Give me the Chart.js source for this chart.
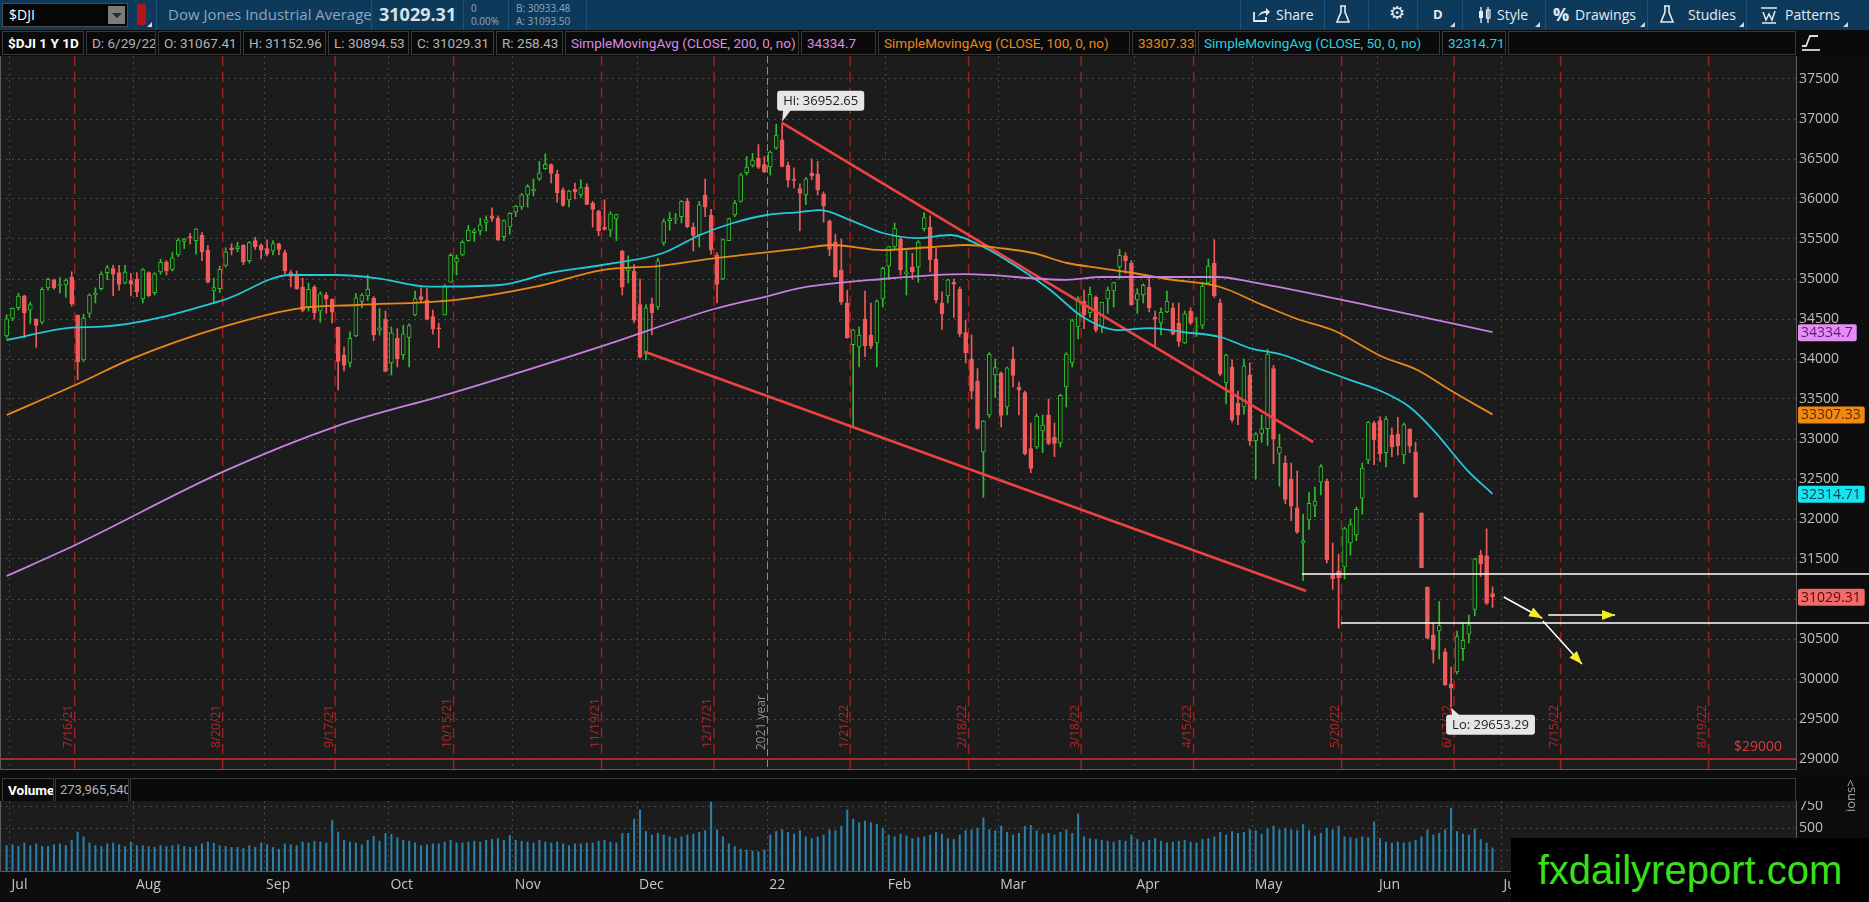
<!DOCTYPE html>
<html>
<head>
<meta charset="utf-8">
<title>$DJI 1 Y 1D</title>
<script src="https://cdn.jsdelivr.net/npm/chart.js@4.4.1/dist/chart.umd.min.js"></script>
<style>
  html, body { margin:0; padding:0; width:1869px; height:902px; overflow:hidden; background:#0d0d0d; font-family:'Open Sans', sans-serif; }
  .abs { position:absolute; white-space:nowrap; }
  #tb { left:0; top:0; width:1869px; height:30px; background:#0d3a5b; color:#e4ebf1; font-size:14px; }
  #ib { left:0; top:30px; width:1869px; height:26px; background:#0a0a0a; }
  .bx { position:absolute; top:1px; height:24px; box-sizing:border-box; border:1px solid #3a3a3a; line-height:22px; padding-left:5px; font-family:Roboto, sans-serif; font-size:13.5px; color:#b2b2b2; white-space:nowrap; overflow:hidden; }
  .sep { position:absolute; top:0; width:1px; height:30px; background:#1d5378; }
  .tri { position:absolute; width:0; height:0; border-left:5px solid transparent; border-bottom:5px solid #cfd8e0; }
  #priceWrap { position:absolute; left:0; top:56px; width:1869px; height:714px; }
  #volHead { left:0; top:777px; width:1869px; height:24px; background:#0a0a0a; }
  #volWrap { position:absolute; left:0; top:801px; width:1869px; height:101px; }
  canvas { background:#0d0d0d; }
  #wm { left:1511px; top:838px; width:358px; height:64px; background:#000; color:#38e01c; font-family:'Liberation Sans', Arial, sans-serif; font-size:40px; line-height:64px; text-align:center; z-index:5; }
</style>
</head>
<body>

<div id="tb" class="abs">
  <div class="abs" style="left:2px;top:3px;width:126px;height:24px;background:#060606;border:1px solid #4a4a4a;box-sizing:border-box;"></div>
  <div class="abs" style="left:9px;top:5px;color:#fff;font-size:14px;">$DJI</div>
  <div class="abs" style="left:108px;top:6px;width:17px;height:18px;background:#7b7b7b;"></div>
  <div class="abs" style="left:112px;top:13px;width:0;height:0;border-left:5px solid transparent;border-right:5px solid transparent;border-top:5px solid #2a2a2a;"></div>
  <div class="abs" style="left:137px;top:4px;width:9px;height:21px;background:#b3171b;border-radius:2px;"></div>
  <div class="tri" style="left:147px;top:22px;"></div>
  <div class="sep" style="left:156px;"></div>
  <div class="abs" style="left:168px;top:4px;color:#8ea6bc;font-size:15px;">Dow Jones Industrial Average</div>
  <div class="sep" style="left:371px;"></div>
  <div class="abs" style="left:379px;top:2px;color:#d9e1e8;font-size:18px;font-weight:bold;">31029.31</div>
  <div class="sep" style="left:463px;"></div>
  <div class="abs" style="left:471px;top:1px;color:#8ea6bc;font-size:10px;">0</div>
  <div class="abs" style="left:471px;top:14px;color:#8ea6bc;font-size:10px;">0.00%</div>
  <div class="sep" style="left:508px;"></div>
  <div class="abs" style="left:516px;top:1px;color:#8ea6bc;font-size:10px;">B: 30933.48</div>
  <div class="abs" style="left:516px;top:14px;color:#8ea6bc;font-size:10px;">A: 31093.50</div>
  <div class="sep" style="left:586px;"></div>

  <div class="sep" style="left:1240px;"></div>
  <svg class="abs" style="left:1252px;top:7px;" width="18" height="16" viewBox="0 0 18 16"><path d="M2 5v9h12v-4" fill="none" stroke="#e4ebf1" stroke-width="1.8"/><path d="M6 10c1-4 4-6 8-6V1l4 4-4 4V6c-3 0-6 1-8 4z" fill="#e4ebf1"/></svg>
  <div class="abs" style="left:1276px;top:5px;">Share</div>
  <div class="sep" style="left:1324px;"></div>
  <svg class="abs" style="left:1336px;top:5px;" width="14" height="19" viewBox="0 0 14 19"><path d="M4 1h6M5 1v6L1 17h12L9 7V1" fill="none" stroke="#e4ebf1" stroke-width="1.6"/></svg>
  <div class="sep" style="left:1368px;"></div>
  <div class="abs" style="left:1389px;top:2px;font-size:18px;font-family:'DejaVu Sans';">⚙</div>
  <div class="sep" style="left:1417px;"></div>
  <div class="abs" style="left:1433px;top:5px;font-weight:bold;font-size:13px;">D</div>
  <div class="tri" style="left:1450px;top:22px;"></div>
  <div class="sep" style="left:1462px;"></div>
  <svg class="abs" style="left:1478px;top:6px;" width="14" height="18" viewBox="0 0 14 18"><path d="M3 1v16M10 1v16" stroke="#e4ebf1" stroke-width="1.4"/><rect x="1" y="5" width="4" height="7" fill="#e4ebf1"/><rect x="8.5" y="4" width="3.5" height="8" fill="none" stroke="#e4ebf1" stroke-width="1.2"/></svg>
  <div class="abs" style="left:1497px;top:5px;">Style</div>
  <div class="tri" style="left:1535px;top:22px;"></div>
  <div class="sep" style="left:1545px;"></div>
  <div class="abs" style="left:1553px;top:2px;font-size:18px;font-weight:bold;">%</div>
  <div class="abs" style="left:1575px;top:5px;">Drawings</div>
  <div class="tri" style="left:1640px;top:22px;"></div>
  <div class="sep" style="left:1647px;"></div>
  <svg class="abs" style="left:1660px;top:5px;" width="14" height="19" viewBox="0 0 14 19"><path d="M4 1h6M5 1v6L1 17h12L9 7V1" fill="none" stroke="#e4ebf1" stroke-width="1.6"/></svg>
  <div class="abs" style="left:1688px;top:5px;">Studies</div>
  <div class="tri" style="left:1739px;top:22px;"></div>
  <div class="sep" style="left:1746px;"></div>
  <svg class="abs" style="left:1760px;top:6px;" width="18" height="18" viewBox="0 0 18 18"><path d="M1 2h16M3 6l3 8 3-6 3 6 3-9M2 17h14" fill="none" stroke="#e4ebf1" stroke-width="1.5"/></svg>
  <div class="abs" style="left:1785px;top:5px;">Patterns</div>
  <div class="tri" style="left:1843px;top:22px;"></div>
</div>

<div id="ib" class="abs">
  <div class="bx" style="left:2px;width:82px;color:#fff;font-weight:bold;">$DJI 1 Y 1D</div>
  <div class="bx" style="left:86px;width:70px;">D: 6/29/22</div>
  <div class="bx" style="left:158px;width:83px;">O: 31067.41</div>
  <div class="bx" style="left:243px;width:83px;">H: 31152.96</div>
  <div class="bx" style="left:328px;width:81px;">L: 30894.53</div>
  <div class="bx" style="left:411px;width:83px;">C: 31029.31</div>
  <div class="bx" style="left:496px;width:67px;">R: 258.43</div>
  <div class="bx" style="left:565px;width:234px;color:#d98ae8;">SimpleMovingAvg (CLOSE, 200, 0, no)</div>
  <div class="bx" style="left:801px;width:75px;color:#d98ae8;">34334.7</div>
  <div class="bx" style="left:878px;width:252px;color:#e8891c;">SimpleMovingAvg (CLOSE, 100, 0, no)</div>
  <div class="bx" style="left:1132px;width:64px;color:#e8891c;">33307.33</div>
  <div class="bx" style="left:1198px;width:242px;color:#27d3e0;">SimpleMovingAvg (CLOSE, 50, 0, no)</div>
  <div class="bx" style="left:1442px;width:64px;color:#27d3e0;">32314.71</div>
  <div class="bx" style="left:1508px;width:288px;"></div>
  <svg class="abs" style="left:1800px;top:3px;" width="22" height="20" viewBox="0 0 22 20"><path d="M2 13h4l4-10h8" fill="none" stroke="#dcdcdc" stroke-width="1.8"/><path d="M2 17h18" stroke="#dcdcdc" stroke-width="1.8"/></svg>
</div>

<div id="priceWrap"><canvas id="price"></canvas></div>

<div id="volHead" class="abs">
  <div class="bx" style="left:2px;width:52px;color:#fff;font-weight:bold;">Volume</div>
  <div class="bx" style="left:55px;width:74px;font-size:13px;padding-left:4px;">273,965,540</div>
  <div class="bx" style="left:130px;width:1666px;"></div>
</div>

<div id="volWrap"><canvas id="vol"></canvas></div>

<div class="abs" style="left:1841px;top:812px;color:#a8a8a8;font-size:13px;transform:rotate(-90deg);transform-origin:left top;z-index:4;">ions&gt;</div>
<div id="wm" class="abs">fxdailyreport.com</div>

<script>
// daily candles, 6/30/21 .. 6/29/22 (index 0 .. 251)
const opens = [34290,34507,34642,34790,34609,34500,34460,34890,34990,34920,
  34925,35021,34550,33990,34570,34800,34880,35080,35130,35080,
  34950,34980,35000,34750,35080,34830,35090,35210,35120,35300,
  35470,35530,35480,35550,35360,34850,34880,35170,35390,35380,
  35420,35230,35480,35420,35380,35350,35440,35330,35080,35050,
  34900,34650,34900,34600,34800,34750,34400,34050,33950,34290,
  34720,34790,34760,34360,34500,33950,34260,34050,34270,34550,
  34780,34740,34530,34390,34550,34960,35210,35300,35480,35580,
  35600,35700,35790,35760,35530,35650,35840,35900,36050,36100,
  36250,36380,36430,36310,36110,35990,36120,36050,36150,35950,
  35850,35650,35610,35750,35350,35100,35100,34680,34060,34690,
  34650,35450,35730,35750,35780,35970,35650,35550,36050,35800,
  35300,35000,35480,35800,35970,36330,36420,36510,36430,36400,
  36640,36740,36420,36250,36130,36050,36320,36310,36060,35720,
  35460,35110,34700,34180,34150,34500,34300,34200,34750,35160,
  35400,35500,35060,35150,35150,35630,35650,35250,34700,34790,
  34960,34870,34330,34000,33720,32840,33300,33800,33820,33400,
  34000,33650,33580,32880,32900,33100,33300,33020,32950,33650,
  33950,34400,34720,34580,34770,34400,34750,34850,35150,35290,
  35200,34740,34800,34900,34520,34450,34590,34640,34450,34200,
  34600,34400,34420,34950,35200,34700,33700,33900,33450,33400,
  33800,32980,33070,33130,33880,32820,32700,32500,32140,31700,
  31990,32170,32460,32470,31300,31350,31400,31700,31800,32260,
  32740,33200,33230,32830,33050,33060,32800,33120,32840,32070,
  31150,30550,30600,30340,29940,30090,30380,30560,30870,31550,
  31540,31067];
const highs = [34550,34640,34821,34796,34711,34502,34893,35011,35000,35017,
  35000,35091,34550,34560,34815,34890,35090,35170,35171,35170,
  35170,35070,35080,35130,35090,35080,35250,35230,35330,35510,
  35510,35570,35630,35580,35420,35010,35160,35390,35440,35460,
  35430,35470,35520,35440,35490,35480,35450,35360,35110,35100,
  35010,34950,34920,34840,34830,34750,34400,34150,34340,34820,
  34820,35050,34780,34630,34600,34400,34380,34420,34440,34850,
  34890,34880,34610,34450,34930,35320,35300,35480,35670,35630,
  35760,35790,35890,35790,35740,35830,35920,36070,36180,36250,
  36470,36565,36440,36360,36140,36110,36200,36240,36190,35970,
  35860,35990,35840,35810,35360,35290,35180,35000,34680,34760,
  35260,35750,35830,35820,35980,36010,35700,35970,36250,35870,
  35330,35500,35760,35980,36320,36530,36570,36680,36530,36600,
  36935,36952.65,36460,36390,36190,36270,36500,36470,36090,35740,
  35560,35500,34860,34370,34400,34850,34700,34740,35150,35410,
  35700,35520,35350,35320,35480,35830,35790,35380,34840,35000,
  35000,34900,34480,34300,33880,33230,34080,34000,33840,33900,
  34150,33710,33600,33200,33310,33300,33500,33200,33560,34080,
  34500,34780,34860,34900,34790,34710,34900,34960,35370,35330,
  35230,34880,34940,35020,34600,34640,34850,34700,34700,34600,
  34640,34520,34960,35250,35492,34750,34060,33990,33600,34000,
  33950,33080,33300,34120,33920,33060,32790,32700,32600,32060,
  32330,32400,32680,32500,31700,31560,31900,32000,32150,32700,
  33220,33220,33280,33280,33140,33270,33200,33130,32960,32080,
  31150,30700,30970,30380,30150,30600,30700,30800,31510,31610,
  31877,31152.96];
const lows = [34262,34480,34613,34266,34439,34145,34440,34860,34870,34825,
  34770,34660,33741,33970,34520,34700,34860,34990,34792,34860,
  34940,34790,34780,34700,34780,34800,35060,35050,35100,35280,
  35380,35440,35310,35230,34950,34690,34830,35150,35300,35340,
  35180,35200,35370,35250,35290,35300,35300,35060,34900,34870,
  34590,34600,34500,34460,34570,34450,33613,33850,33900,34280,
  34640,34730,34230,34300,33840,33800,33900,34000,33900,34540,
  34700,34490,34310,34140,34550,34960,35050,35290,35470,35470,
  35550,35600,35720,35480,35480,35560,35780,35870,35900,36040,
  36230,36370,36200,35960,35910,35900,36000,36020,35930,35650,
  35540,35610,35530,35480,34800,34950,34450,34010,33990,34300,
  34620,35420,35610,35690,35700,35640,35350,35400,35780,35310,
  34700,34990,35480,35780,35960,36300,36400,36380,36330,36300,
  36620,36400,36150,36140,35600,35930,36240,36050,35710,35290,
  35020,34680,34260,33150,33900,34030,34130,33900,34650,35000,
  35380,35050,34800,35000,34960,35600,35090,34700,34370,34700,
  34520,34280,33950,33500,33120,32272,33270,33520,33150,33300,
  33650,33300,32800,32578,32880,32830,32930,32780,32900,33400,
  33900,34250,34380,34520,34340,34330,34570,34650,35000,35070,
  34670,34570,34700,34590,34150,34300,34580,34300,34160,34190,
  34430,34280,34380,34940,34770,33790,33440,33210,33180,33310,
  32920,32500,32960,32920,32690,32410,32190,31980,31820,31228,
  31870,32030,32300,31450,31120,30635,31250,31550,31730,32060,
  32690,32680,32720,32650,32780,32800,32690,32830,32270,31390,
  30500,30200,30250,29920,29653.29,30060,30230,30450,30790,31280,
  30930,30894.53];
const closes = [34502,34633,34786,34577,34681,34421,34870,34996,34889,34933,
  34987,34688,33962,34511,34798,34823,35062,35144,35059,34931,
  35085,34935,34838,35117,34793,35065,35209,35102,35265,35485,
  35500,35515,35625,35343,34961,34894,35120,35336,35367,35406,
  35214,35456,35400,35361,35313,35444,35369,35100,35031,34879,
  34608,34870,34578,34814,34751,34585,33970,33919,34258,34765,
  34798,34870,34300,34391,33844,34326,34003,34315,34417,34755,
  34746,34496,34378,34377,34912,35295,35259,35458,35610,35603,
  35677,35741,35757,35491,35731,35820,35913,36053,36158,36124,
  36328,36432,36320,36080,35921,36100,36087,36142,35931,35870,
  35602,35620,35814,35805,34899,35136,34484,34022,34640,34580,
  35227,35719,35754,35755,35971,35651,35545,35927,35898,35365,
  34932,35493,35754,35950,36302,36398,36488,36398,36338,36585,
  36800,36408,36236,36232,36069,36252,36290,36114,35912,35369,
  35029,34715,34265,34365,34298,34168,34160,34725,35132,35405,
  35630,35112,35089,35091,35463,35768,35242,34738,34566,34989,
  34935,34312,34079,33597,33132,33224,34059,33893,33295,33891,
  33795,33615,32818,32633,33286,33174,32944,32945,33545,34063,
  34481,34755,34553,34808,34359,34708,34862,34956,35295,35229,
  34679,34819,34922,34642,34497,34584,34721,34309,34221,34565,
  34452,34412,34912,35161,34793,33811,34049,33240,33302,33916,
  32977,33062,33129,34061,32998,32899,32246,32161,31834,31730,
  32197,32223,32655,31490,31254,31262,31880,31929,32120,32637,
  33213,32990,32813,33248,32900,32916,33180,32910,32273,31393,
  30517,30365,30669,29927,29889,30530,30484,30677,31501,31439,
  30947,31029.31];
// volume, millions of shares
const volumes = [300,310,290,330,300,320,290,290,310,320,300,360,455,400,330,300,290,320,330,310,290,340,
  300,300,290,280,300,290,300,310,290,280,290,320,340,330,300,290,280,280,270,300,280,330,
  310,280,260,320,310,300,340,330,350,340,330,585,455,360,340,330,310,360,405,350,440,
  430,390,360,350,330,300,310,320,320,340,360,330,330,340,350,340,360,370,380,360,416,
  360,350,340,330,360,340,330,340,320,300,320,320,330,330,350,360,340,330,438,440,600,
  705,460,420,440,420,400,380,400,420,430,450,470,795,480,400,320,290,260,250,240,230,250,
  420,460,480,450,430,470,400,380,400,420,480,470,520,705,600,560,580,560,540,500,
  420,400,430,410,380,390,400,420,450,430,380,370,420,470,480,500,615,480,470,
  520,450,420,440,520,530,470,430,440,420,450,480,440,660,400,380,370,360,350,340,360,350,420,
  370,340,360,380,350,330,340,350,360,340,330,370,380,400,450,420,460,440,450,480,
  470,430,490,520,480,500,480,470,540,470,410,440,500,480,520,400,390,380,400,390,570,
  380,340,330,340,330,340,360,400,480,420,440,480,725,460,430,420,490,370,330,274];

// moving averages: bar index -> value
const sma200At = [0, 11.6, 36.6, 55.8, 75.6, 100.6, 119.5, 128.6, 134, 148, 162, 179, 185, 204.5, 210.4, 230.5, 251];
const sma200 = [31287, 31675, 32592, 33162, 33583, 34162, 34625, 34787, 34887, 35000, 35060, 34990, 35025, 35025, 34962, 34662, 34334.7];
const sma100At = [0, 11.6, 21.3, 36.6, 49.7, 59.2, 75.6, 89.4, 100.6, 110, 119.5, 134, 139.6, 148, 156.5, 162.2, 167.8, 173.4, 179.1, 184.7, 190.3, 196, 205, 212, 218, 224, 232.5, 238.3, 243.8, 251];
const sma100 = [33300, 33675, 34008, 34404, 34637, 34675, 34737, 34904, 35112, 35162, 35258, 35380, 35425, 35362, 35400, 35425, 35387, 35325, 35200, 35137, 35075, 35000, 34900, 34680, 34500, 34362, 34025, 33862, 33612, 33307.33];
const sma50At = [0, 11.6, 16.1, 36.6, 48, 55.8, 62.7, 71.3, 83.3, 91.8, 100.6, 110.9, 117.1, 122.7, 128.4, 134, 137.4, 142.5, 148, 153.8, 159.4, 165, 170.7, 176.3, 181.8, 187.6, 193.1, 198.7, 205, 210, 215.6, 221.4, 227, 232.5, 237, 241, 246.7, 251];
const sma50 = [34237, 34396, 34404, 34737, 35050, 35050, 35008, 34904, 34925, 35075, 35175, 35325, 35550, 35700, 35800, 35837, 35862, 35737, 35575, 35512, 35550, 35400, 35150, 34862, 34525, 34362, 34387, 34337, 34275, 34137, 34050, 33887, 33737, 33587, 33400, 33112, 32612, 32314.71];

// drawings on the chart: [bar index, price]
const upperTrend = [[131, 36952.65], [220.7, 32962]];
const lowerTrend = [[107.8, 34090], [219.5, 31100]];
const supportHigh = [[218.8, 31312], [314.6, 31312]];
const supportLow = [[225.4, 30700], [314.6, 30700]];
const arrowsFrom = [[252.9, 31025], [260.4, 30800], [259.5, 30725]];
const arrowsTo = [[259.4, 30760], [271.7, 30800], [266.1, 30187]];
const hiPoint = [131, 36952.65];
const loPoint = [244, 29653.29];
const stopLevel = 29000;

// axes
const monthLabels = ['Jul', 'Aug', 'Sep', 'Oct', 'Nov', 'Dec', '22', 'Feb', 'Mar', 'Apr', 'May', 'Jun', 'Jul'];
const monthStarts = [0.5, 21.5, 43.5, 64.5, 85.5, 106.5, 128.5, 148.5, 167.5, 190.5, 210.5, 231.5, 252.5];
const expiryLabels = ['7/16/21', '8/20/21', '9/17/21', '10/15/21', '11/19/21', '12/17/21', '1/21/22', '2/18/22', '3/18/22', '4/15/22', '5/20/22', '6/17/22', '7/15/22', '8/19/22'];
const expiryAt = [11.5, 36.5, 55.5, 75.5, 100.5, 119.5, 142.5, 162.5, 181.5, 200.5, 225.5, 244.5, 262.5, 287.5];
const yearLabel = '2021 year';
const yearAt = 128.5;
const priceTicks = [29000, 29500, 30000, 30500, 31000, 31500, 32000, 32500, 33000, 33500, 34000, 34500, 35000, 35500, 36000, 36500, 37000, 37500];
const volTicks = [250, 500, 750];

const X_MIN = -1.115, X_MAX = 302.26;
const Y_MIN = 28862.5, Y_MAX = 37787.5;
const VOL_MAX = 807;

const GREEN = '#2ebd2e', RED = '#ef5b5b', PLOT_BG = '#1c1c1c', GRID = '#474747';
const AXIS_W = 73;

Chart.defaults.font.family = "'Open Sans', sans-serif";

const isUp = closes.map((c, i) => c >= opens[i]);
const toPts = (ks, vs) => ks.map((k, i) => ({x: k, y: vs[i]}));
const pairPts = pairs => pairs.map(p => ({x: p[0], y: p[1]}));

function lineSet(data, color, width, extra) {
  return Object.assign({type: 'line', data: data, borderColor: color, borderWidth: width,
    pointRadius: 0, pointHoverRadius: 0, fill: false, order: 1}, extra || {});
}

const plotBg = {
  id: 'plotBg',
  beforeDraw(chart) {
    const {ctx, chartArea: a} = chart;
    ctx.save();
    ctx.fillStyle = PLOT_BG;
    ctx.fillRect(a.left, a.top, a.right - a.left, a.bottom - a.top);
    ctx.restore();
  },
  afterDraw(chart) {
    const {ctx, chartArea: a} = chart;
    ctx.save();
    ctx.strokeStyle = '#5a5a5a';
    ctx.lineWidth = 1;
    ctx.beginPath();
    ctx.moveTo(a.left + 0.5, a.top);
    ctx.lineTo(a.left + 0.5, a.bottom - 0.5);
    ctx.lineTo(a.right, a.bottom - 0.5);
    ctx.stroke();
    ctx.restore();
  }
};

function arrowHead(ctx, x1, y1, x2, y2, len, half) {
  const ang = Math.atan2(y2 - y1, x2 - x1);
  const c = Math.cos(ang), s = Math.sin(ang);
  ctx.beginPath();
  ctx.moveTo(x2, y2);
  ctx.lineTo(x2 - len * c + half * s, y2 - len * s - half * c);
  ctx.lineTo(x2 - len * c - half * s, y2 - len * s + half * c);
  ctx.closePath();
  ctx.fill();
}

function tagBox(ctx, text, left, top, tailX, tailY, tailUp) {
  ctx.font = "13px 'Open Sans'";
  const w = ctx.measureText(text).width + 12, h = 20;
  ctx.fillStyle = '#e6e6e6';
  ctx.beginPath();
  if (tailUp) {
    ctx.moveTo(tailX, tailY); ctx.lineTo(left + 6, top + 1); ctx.lineTo(left + 14, top + 1);
  } else {
    ctx.moveTo(tailX, tailY); ctx.lineTo(left + 6, top + h - 1); ctx.lineTo(left + 14, top + h - 1);
  }
  ctx.closePath();
  ctx.fill();
  ctx.beginPath();
  ctx.roundRect(left, top, w, h, 3);
  ctx.fill();
  ctx.fillStyle = '#222';
  ctx.textAlign = 'left';
  ctx.textBaseline = 'middle';
  ctx.fillText(text, left + 6, top + h / 2 + 0.5);
}

const priceMarks = {
  id: 'priceMarks',
  beforeDatasetsDraw(chart) {
    const {ctx, chartArea: a, scales: {x, y}} = chart;
    ctx.save();
    ctx.beginPath();
    ctx.rect(a.left, a.top, a.right - a.left, a.bottom - a.top);
    ctx.clip();
    // year divider
    const yx = Math.round(x.getPixelForValue(yearAt)) + 0.5;
    ctx.strokeStyle = '#8c8c8c';
    ctx.lineWidth = 1;
    ctx.setLineDash([7, 4]);
    ctx.beginPath(); ctx.moveTo(yx, a.top); ctx.lineTo(yx, a.bottom); ctx.stroke();
    ctx.font = "12px 'Open Sans'";
    ctx.textBaseline = 'middle';
    ctx.textAlign = 'left';
    ctx.save();
    ctx.translate(yx - 6, a.bottom - 20);
    ctx.rotate(-Math.PI / 2);
    ctx.fillStyle = '#8c8c8c';
    ctx.fillText(yearLabel, 0, 0);
    ctx.restore();
    // option expiration lines
    ctx.strokeStyle = '#9e1e1e';
    ctx.lineWidth = 1.5;
    ctx.setLineDash([10, 6]);
    expiryAt.forEach((v, i) => {
      const px = x.getPixelForValue(v);
      if (px > a.right) return;
      ctx.beginPath(); ctx.moveTo(px, a.top); ctx.lineTo(px, a.bottom); ctx.stroke();
      ctx.save();
      ctx.translate(px - 6, a.bottom - 22);
      ctx.rotate(-Math.PI / 2);
      ctx.fillStyle = '#b3292b';
      ctx.fillText(expiryLabels[i], 0, 0);
      ctx.restore();
    });
    // stop level
    ctx.setLineDash([]);
    const sy = y.getPixelForValue(stopLevel);
    ctx.strokeStyle = '#c62f2c';
    ctx.lineWidth = 1.5;
    ctx.beginPath(); ctx.moveTo(a.left, sy); ctx.lineTo(a.right, sy); ctx.stroke();
    ctx.fillStyle = '#d63b3b';
    ctx.font = "14px 'Open Sans'";
    ctx.textAlign = 'right';
    ctx.fillText('$' + stopLevel, a.right - 14, sy - 12);
    ctx.restore();
  },
  afterDatasetsDraw(chart) {
    const {ctx, chartArea: a, scales: {x, y}} = chart;
    ctx.save();
    // yellow arrow heads
    ctx.fillStyle = '#f4ee1c';
    arrowsFrom.forEach((f, i) => {
      const t = arrowsTo[i];
      arrowHead(ctx, x.getPixelForValue(f[0]), y.getPixelForValue(f[1]),
        x.getPixelForValue(t[0]), y.getPixelForValue(t[1]), 13, 5);
    });
    // high / low tags
    const hx = x.getPixelForValue(hiPoint[0]), hy = y.getPixelForValue(hiPoint[1]);
    tagBox(ctx, 'Hi: ' + hiPoint[1].toFixed(2), hx - 5, hy - 32, hx, hy - 1, false);
    const lx = x.getPixelForValue(loPoint[0]), ly = y.getPixelForValue(loPoint[1]);
    tagBox(ctx, 'Lo: ' + loPoint[1].toFixed(2), lx - 5, ly + 8, lx, ly + 1, true);
    // last value badges on the price axis
    const badges = [
      [sma200[sma200.length - 1], '#e58cf5', '#5b1e6e', String(sma200[sma200.length - 1])],
      [sma100[sma100.length - 1], '#f28a12', '#5e2a00', sma100[sma100.length - 1].toFixed(2)],
      [sma50[sma50.length - 1], '#19e3ee', '#07464f', sma50[sma50.length - 1].toFixed(2)],
      [closes[closes.length - 1], '#f26a6a', '#5a0a0a', closes[closes.length - 1].toFixed(2)]
    ];
    ctx.font = "14px 'Open Sans'";
    ctx.textAlign = 'left';
    ctx.textBaseline = 'middle';
    badges.forEach(b => {
      const by = y.getPixelForValue(b[0]);
      const w = ctx.measureText(b[3]).width + 7;
      ctx.fillStyle = b[1];
      ctx.beginPath();
      ctx.roundRect(a.right + 2, by - 8, w, 17, 2);
      ctx.fill();
      ctx.fillStyle = b[2];
      ctx.fillText(b[3], a.right + 5, by + 1);
    });
    ctx.restore();
  }
};

const noPad = s => { s.paddingTop = 0; s.paddingBottom = 0; s.paddingLeft = 0; s.paddingRight = 0; };

new Chart(document.getElementById('price'), {
  type: 'bar',
  data: {
    datasets: [
      {type: 'bar', label: 'wick', data: closes.map((c, i) => ({x: i, y: [lows[i], highs[i]]})),
        backgroundColor: isUp.map(u => u ? GREEN : RED), barThickness: 1, grouped: false, order: 3},
      {type: 'bar', label: 'body', data: closes.map((c, i) => ({x: i, y: [opens[i], c]})),
        backgroundColor: isUp.map(u => u ? PLOT_BG : RED), borderColor: isUp.map(u => u ? GREEN : RED),
        borderWidth: 1, borderSkipped: false, barThickness: 4, minBarLength: 1, grouped: false, order: 2},
      lineSet(toPts(sma200At, sma200), '#c77fe0', 1.8, {cubicInterpolationMode: 'monotone'}),
      lineSet(toPts(sma100At, sma100), '#e8881a', 1.8, {cubicInterpolationMode: 'monotone'}),
      lineSet(toPts(sma50At, sma50), '#24c9d6', 1.8, {cubicInterpolationMode: 'monotone'}),
      lineSet(pairPts(upperTrend), '#ee4242', 2.6),
      lineSet(pairPts(lowerTrend), '#ee4242', 2.6),
      lineSet(pairPts(supportHigh), '#ffffff', 1.6, {clip: false}),
      lineSet(pairPts(supportLow), '#ffffff', 1.6, {clip: false}),
      ...arrowsFrom.map((f, i) => lineSet(pairPts([f, arrowsTo[i]]), '#ffffff', 1.6))
    ]
  },
  options: {
    responsive: true,
    maintainAspectRatio: false,
    animation: false,
    events: [],
    layout: {padding: 0},
    plugins: {legend: {display: false}, tooltip: {enabled: false}},
    scales: {
      x: {
        type: 'linear', min: X_MIN, max: X_MAX, offset: false,
        afterBuildTicks: s => { s.ticks = monthStarts.map(v => ({value: v})); },
        ticks: {display: false},
        grid: {color: GRID, drawTicks: false, offset: false},
        border: {display: false, dash: [2, 4]},
        afterFit: s => { s.height = 0; noPad(s); }
      },
      y: {
        position: 'right', min: Y_MIN, max: Y_MAX,
        afterBuildTicks: s => { s.ticks = priceTicks.map(v => ({value: v})); },
        ticks: {color: '#bdbdbd', font: {size: 14}, padding: 3, callback: v => String(v)},
        grid: {color: GRID, drawTicks: false},
        border: {display: true, color: '#5f5f5f', dash: [2, 4]},
        afterFit: s => { s.width = AXIS_W; noPad(s); }
      }
    }
  },
  plugins: [plotBg, priceMarks]
});

new Chart(document.getElementById('vol'), {
  type: 'bar',
  data: {
    datasets: [{
      data: volumes.map((v, i) => ({x: i, y: v})),
      backgroundColor: '#2a7fa8', barThickness: 1.4
    }]
  },
  options: {
    responsive: true,
    maintainAspectRatio: false,
    animation: false,
    events: [],
    layout: {padding: 0},
    plugins: {legend: {display: false}, tooltip: {enabled: false}},
    scales: {
      x: {
        type: 'linear', min: X_MIN, max: X_MAX, offset: false,
        afterBuildTicks: s => { s.ticks = monthStarts.map(v => ({value: v})); },
        ticks: {
          autoSkip: false, maxRotation: 0, minRotation: 0, align: 'start', labelOffset: 2, padding: 5,
          color: '#c6c6c6', font: {size: 14},
          callback: (v, i) => monthLabels[i]
        },
        grid: {color: GRID, drawTicks: false, offset: false},
        border: {display: false, dash: [2, 4]},
        afterFit: s => { s.height = 30; noPad(s); }
      },
      y: {
        position: 'right', min: 0, max: VOL_MAX,
        afterBuildTicks: s => { s.ticks = volTicks.map(v => ({value: v})); },
        ticks: {color: '#bdbdbd', font: {size: 14}, padding: 3, callback: v => String(v)},
        grid: {color: GRID, drawTicks: false},
        border: {display: true, color: '#5f5f5f', dash: [2, 4]},
        afterFit: s => { s.width = AXIS_W; noPad(s); }
      }
    }
  },
  plugins: [plotBg]
});
</script>
</body>
</html>
